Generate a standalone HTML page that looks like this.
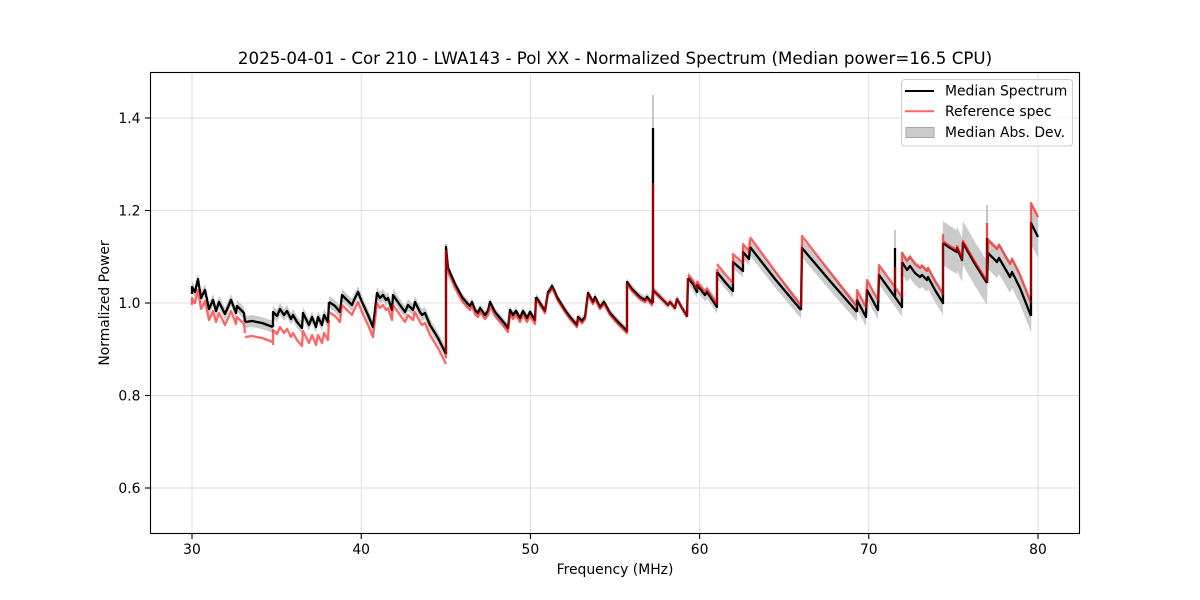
<!DOCTYPE html>
<html><head><meta charset="utf-8">
<style>
html,body{margin:0;padding:0;background:#fff;}
svg{display:block;font-family:"DejaVu Sans","Liberation Sans",sans-serif;}
</style></head>
<body>
<svg width="1200" height="600" viewBox="0 0 1200 600" xmlns="http://www.w3.org/2000/svg">
<defs>
<clipPath id="ax"><rect x="150" y="72" width="930" height="462"/></clipPath>
<path id="s1" d="M192,294 L192,287 195,292 198,279 201,298 205,290 209,309 213,300 216,311 219,302 225,314 231,300 236,313 237,306 244,313 245,322"/>
<path id="s2" d="M245,322 L252,321 262,323 273,327"/>
<path id="s3" d="M273,327 L273,312 277,316 280,309 284,315 287,311 291,319 293,315 297,322 302,328 303,313 309,325 312,317 316,327 318,317 322,325 324,315 328,322 329,302"/>
<path id="s4" d="M329,302 L335,306 340,312 342,295 352,305 354,300 358,292 362,302 368,315 373,327 377,293 380,298 383,295 386,300 388,298 392,310 393,295 400,305 405,312 408,305 413,310 415,302 420,312 422,315 425,313 430,325 438,338 446,354"/>
<path id="s5" d="M446,354 L446,247 448,268 455,284 462,297 467,303 470,306 472,302 475,310 478,313 480,308 485,315 488,311 490,302 495,312 500,318 505,324 508,328 510,310 513,315 516,311 520,318 523,311 527,318 530,312 535,320 536,297"/>
<path id="s6" d="M536,297 L540,303 545,311 548,292 550,290 552,286 555,292 557,297 560,302 565,310 570,317 577,325 578,317 582,321 585,317 588,293 593,302 595,297 600,307 604,302 610,313 618,322 627,331 627,282 632,289 640,297 645,300 647,297 652,303 653,290"/>
<path id="s7" d="M653,290 L660,297 668,305 670,302 675,308 677,299 682,308 687,316 688,278"/>
<path id="s8" d="M688,278 L693,284 697,292 697,285 705,295 707,292 717,307 717,272"/>
<path id="s9" d="M717,272 L725,282 733,291 733,262 743,271 743,252 749,259 750,247"/>
<path id="s10" d="M750,247 L775,279 801,310"/>
<path id="s11" d="M801,310 L802,248 830,281 857,312"/>
<path id="s12" d="M857,312 L857,300 866,317 867,290 878,310 879,275 887,286 895,297 902,307 902,262"/>
<path id="s13" d="M902,262 L907,270 910,266 915,273 920,277 922,275 927,280 928,277 935,290 943,303 943,243"/>
<path id="s14" d="M943,243 L950,248 957,252 957,248 962,260 963,243 975,264 987,283"/>
<path id="s15" d="M987,283 L988,253 997,262 999,258 1010,277 1012,272 1020,288 1031,316"/>
<path id="s16" d="M1031,316 L1031,223 1038,237"/>
</defs>

<!-- grid -->
<g stroke="#dfdfdf" stroke-width="1">
<line x1="192" y1="72" x2="192" y2="534"/>
<line x1="361.2" y1="72" x2="361.2" y2="534"/>
<line x1="530.4" y1="72" x2="530.4" y2="534"/>
<line x1="699.6" y1="72" x2="699.6" y2="534"/>
<line x1="868.8" y1="72" x2="868.8" y2="534"/>
<line x1="1038" y1="72" x2="1038" y2="534"/>
<line x1="150" y1="118" x2="1080" y2="118"/>
<line x1="150" y1="210.5" x2="1080" y2="210.5"/>
<line x1="150" y1="303" x2="1080" y2="303"/>
<line x1="150" y1="395.5" x2="1080" y2="395.5"/>
<line x1="150" y1="488" x2="1080" y2="488"/>
</g>

<g clip-path="url(#ax)">
<g transform="scale(0.01,1)" fill="none" stroke="#cbcbcb" stroke-linejoin="round" stroke-linecap="round">
<path stroke-width="12" d="M19200,294 L19200,287 19500,292 19800,279 20100,298 20500,290 20900,309 21300,300 21600,311 21900,302 22500,314 23100,300 23600,313 23700,306 24400,313 24500,322 25200,321 26200,323 27300,327 27300,312 27700,316 28000,309 28400,315 28700,311 29100,319 29300,315 29700,322 30200,328 30300,313 30900,325 31200,317 31600,327 31800,317 32200,325 32400,315 32800,322 32900,302 33500,306 34000,312 34200,295 35200,305 35400,300 35800,292 36200,302 36800,315 37300,327 37700,293 38000,298 38300,295 38600,300 38800,298 39200,310 39300,295 40000,305 40500,312 40800,305 41300,310 41500,302 42000,312 42200,315 42500,313 43000,325 43800,338 44600,354"/>
<path stroke-width="8" d="M44600,354 L44600,247 44800,268 45500,284 46200,297 46700,303 47000,306 47200,302 47500,310 47800,313 48000,308 48500,315 48800,311 49000,302 49500,312 50000,318 50500,324 50800,328 51000,310 51300,315 51600,311 52000,318 52300,311 52700,318 53000,312 53500,320 53600,297 54000,303 54500,311 54800,292 55000,290 55200,286 55500,292 55700,297 56000,302 56500,310 57000,317 57700,325 57800,317 58200,321 58500,317 58800,293 59300,302 59500,297 60000,307 60400,302 61000,313 61800,322 62700,331 62700,282 63200,289 64000,297 64500,300 64700,297 65200,303 65300,290 66000,297 66800,305 67000,302 67500,308 67700,299 68200,308 68700,316 68800,278"/>
<path stroke-width="13" d="M68800,278 L69300,284 69700,292 69700,285 70500,295 70700,292 71700,307 71700,272 72500,282 73300,291 73300,262 74300,271 74300,252 74900,259 75000,247"/>
<path stroke-width="17" d="M75000,247 L77500,279 80100,310"/>
<path stroke-width="19" d="M80100,310 L80200,248 83000,281 85700,312 85700,300 86600,317 86700,290 87800,310 87900,275 88700,286 89500,297 90200,307 90200,262"/>
<path stroke-width="24" d="M90200,262 L90700,270 91000,266 91500,273 92000,277 92200,275 92700,280 92800,277 93500,290 94300,303 94300,243"/>
<path stroke-width="44" d="M94300,243 L95000,248 95700,252 95700,248 96200,260 96300,243 97500,264 98700,283"/>
<path stroke-width="32" d="M98700,283 L98800,253 99700,262 99900,258 101000,277 101200,272 102000,288 103100,316"/>
<path stroke-width="42" d="M103100,316 L103100,223 103800,237"/>
</g>
<g stroke="#c6c6c6" stroke-width="2">
<line x1="653" y1="300" x2="653" y2="95"/>
<line x1="895" y1="290" x2="895" y2="230"/>
<line x1="987" y1="283" x2="987" y2="205"/>
<line x1="446" y1="300" x2="446" y2="244"/>
</g>

<g fill="none" stroke="#000" stroke-width="2.3" stroke-linejoin="round">
<use href="#s1"/><use href="#s2"/><use href="#s3"/><use href="#s4"/>
<use href="#s5"/><use href="#s6"/><use href="#s7"/><use href="#s8"/>
<use href="#s9"/><use href="#s10"/><use href="#s11"/><use href="#s12"/>
<use href="#s13"/><use href="#s14"/><use href="#s15"/><use href="#s16"/>
<path d="M653,303 L653,128"/>
<path d="M895,297 L895,248"/>
<path d="M987,283 L987,238"/>
</g>

<g opacity="0.6" fill="none" stroke="#ff0000" stroke-width="2.3" stroke-linejoin="round">
<use href="#s1" transform="translate(0,11)"/>
<use href="#s2" transform="translate(0,15)"/>
<use href="#s3" transform="translate(0,18)"/>
<use href="#s4" transform="translate(0,10)"/>
<use href="#s5" transform="translate(0,4)"/>
<use href="#s6" transform="translate(0,2)"/>
<use href="#s7"/>
<use href="#s8" transform="translate(0,-3)"/>
<use href="#s9" transform="translate(0,-8)"/>
<path d="M750,237 L775,271 801,306 L802,236 830,272 857,307"/>
<use href="#s12" transform="translate(0,-10)"/>
<use href="#s13" transform="translate(0,-9)"/>
<use href="#s14" transform="translate(0,-2)"/>
<use href="#s15" transform="translate(0,-13)"/>
<use href="#s16" transform="translate(0,-20)"/>
<path d="M653,303 L653,183"/>
<path d="M895,290 L895,267"/>
<path d="M987,281 L987,223"/>
</g>
</g>

<rect x="150.5" y="72.5" width="929" height="461" fill="none" stroke="#000" stroke-width="1.1"/>

<g stroke="#000" stroke-width="1.1">
<line x1="192" y1="534" x2="192" y2="539"/>
<line x1="361.2" y1="534" x2="361.2" y2="539"/>
<line x1="530.4" y1="534" x2="530.4" y2="539"/>
<line x1="699.6" y1="534" x2="699.6" y2="539"/>
<line x1="868.8" y1="534" x2="868.8" y2="539"/>
<line x1="1038" y1="534" x2="1038" y2="539"/>
<line x1="145" y1="118" x2="150" y2="118"/>
<line x1="145" y1="210.5" x2="150" y2="210.5"/>
<line x1="145" y1="303" x2="150" y2="303"/>
<line x1="145" y1="395.5" x2="150" y2="395.5"/>
<line x1="145" y1="488" x2="150" y2="488"/>
</g>

<g font-size="13.9" fill="#000">
<g text-anchor="middle">
<text x="192" y="554">30</text>
<text x="361.2" y="554">40</text>
<text x="530.4" y="554">50</text>
<text x="699.6" y="554">60</text>
<text x="868.8" y="554">70</text>
<text x="1038" y="554">80</text>
</g>
<g text-anchor="end">
<text x="140.5" y="123">1.4</text>
<text x="140.5" y="215.5">1.2</text>
<text x="140.5" y="308">1.0</text>
<text x="140.5" y="400.5">0.8</text>
<text x="140.5" y="493">0.6</text>
</g>
<text x="615" y="574" text-anchor="middle">Frequency (MHz)</text>
<text transform="translate(109,303) rotate(-90)" text-anchor="middle">Normalized Power</text>
</g>

<text x="615" y="64" text-anchor="middle" font-size="16.67" fill="#000">2025-04-01 - Cor 210 - LWA143 - Pol XX - Normalized Spectrum (Median power=16.5 CPU)</text>

<rect x="901.5" y="79.5" width="171" height="66.5" rx="3" ry="3" fill="#fff" fill-opacity="0.8" stroke="#cccccc" stroke-width="1"/>
<line x1="905" y1="91" x2="934" y2="91" stroke="#000" stroke-width="2"/>
<line x1="905" y1="111.3" x2="934" y2="111.3" stroke="#ff0000" stroke-opacity="0.6" stroke-width="2"/>
<rect x="906" y="127.5" width="28" height="10" fill="#cbcbcb" stroke="#a8a8a8" stroke-width="1"/>
<g font-size="13.9" fill="#000">
<text x="945" y="95.5">Median Spectrum</text>
<text x="945" y="115.8">Reference spec</text>
<text x="945" y="137">Median Abs. Dev.</text>
</g>
</svg>
</body></html>
